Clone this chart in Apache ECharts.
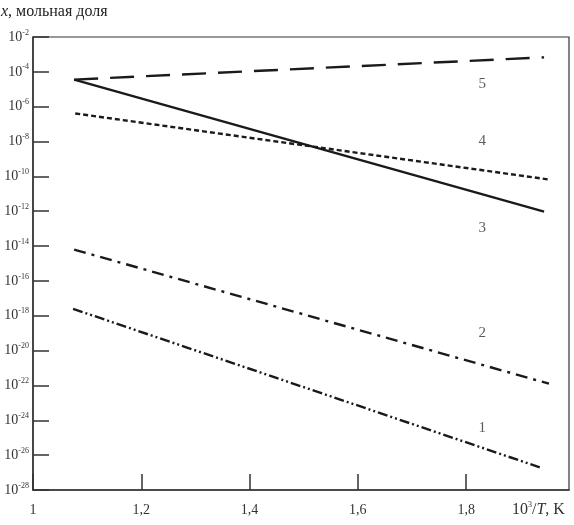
<!DOCTYPE html>
<html><head><meta charset="utf-8">
<script src="https://cdn.jsdelivr.net/npm/echarts@6/dist/echarts.min.js"></script>
<style>html,body{margin:0;padding:0;background:#fff}#c{width:574px;height:525px}</style>
</head><body><div id="c"></div>
<script>
// Data (x = 10^3/T, y = mole fraction)
const xTicks = [1, 1.2, 1.4, 1.6, 1.8];
const xTickLabels = ['1', '1,2', '1,4', '1,6', '1,8'];
const curve1X = [1.074, 1.936];
const curve1Y = [2.5e-18, 2.0e-27];
const curve2X = [1.076, 1.953];
const curve2Y = [6.3e-15, 1.26e-22];
const curve3X = [1.076, 1.944];
const curve3Y = [3.6e-5, 9.5e-13];
const curve4X = [1.078, 1.953];
const curve4Y = [4.1e-7, 6.6e-11];
const curve5X = [1.076, 1.944];
const curve5Y = [3.6e-5, 6.8e-4];
const curveNames = ['1', '2', '3', '4', '5'];
const labelX = [1.83, 1.83, 1.83, 1.83, 1.83];
const labelY = [3.6e-25, 1.07e-19, 1.15e-13, 1.0e-8, 1.9e-5];
const yMinExp = -28, yMaxExp = -2, yStepExp = 2; // decades of the log axis

const SERIF = '"Liberation Serif","DejaVu Serif",serif';
const INK = '#1a1a1a';
// log10 scale handled by a value axis in decades
const pairs = (xs, ys) => xs.map((x, i) => [x, Math.log10(ys[i])]);
function lineSeries(xs, ys, dash) {
  return {
    type: 'line', data: pairs(xs, ys), symbol: 'none', silent: true,
    lineStyle: { color: INK, width: 2.4, type: dash }
  };
}
const chart = echarts.init(document.getElementById('c'), null, { renderer: 'canvas' });
chart.setOption({
  animation: false,
  grid: { left: 33, right: 5, top: 37, bottom: 35, show: true, borderColor: '#333', borderWidth: 1.2 },
  xAxis: {
    type: 'value', min: 1, max: 1.99, interval: 0.2,
    axisLine: { lineStyle: { color: '#333', width: 1.5 } },
    axisTick: { inside: true, length: 16, lineStyle: { color: '#333', width: 1.5 } },
    splitLine: { show: false },
    axisLabel: {
      margin: 13, color: '#333', fontFamily: SERIF, fontSize: 14, showMaxLabel: false,
      formatter: v => { const i = xTicks.findIndex(t => Math.abs(t - v) < 1e-6); return i >= 0 ? xTickLabels[i] : ''; }
    }
  },
  yAxis: {
    type: 'value', min: yMinExp, max: yMaxExp, interval: yStepExp,
    axisLine: { lineStyle: { color: '#333', width: 1.5 } },
    axisTick: { inside: true, length: 16, lineStyle: { color: '#333', width: 1.5 } },
    splitLine: { show: false },
    axisLabel: {
      margin: 4, color: '#333',
      formatter: v => '{b|10}{s|' + Math.round(v) + '}',
      rich: {
        b: { fontFamily: SERIF, fontSize: 14, color: '#333' },
        s: { fontFamily: SERIF, fontSize: 8, color: '#333', verticalAlign: 'top', padding: [0, 0, 9, 0] }
      }
    }
  },
  series: [
    lineSeries(curve1X, curve1Y, [10, 3, 2, 3, 2, 3]),
    lineSeries(curve2X, curve2Y, [12, 6, 3, 6]),
    lineSeries(curve3X, curve3Y, 'solid'),
    lineSeries(curve4X, curve4Y, [5, 3]),
    lineSeries(curve5X, curve5Y, [24, 12]),
    {
      type: 'scatter', symbol: 'circle', symbolSize: 2, silent: true,
      itemStyle: { color: 'rgba(0,0,0,0)' },
      data: labelX.map((x, i) => ({ value: [x, Math.log10(labelY[i])], name: curveNames[i] })),
      label: { show: true, position: 'inside', formatter: p => p.name, color: '#333', fontFamily: SERIF, fontSize: 15 },
      labelLayout: { hideOverlap: false }
    }
  ],
  graphic: [
    { type: 'text', left: 1, top: 4, style: { text: '{i|x}{n|, мольная доля}', rich: {
      i: { fontFamily: SERIF, fontStyle: 'italic', fontSize: 16, fill: '#222' },
      n: { fontFamily: SERIF, fontSize: 16, fill: '#222' } } } },
    { type: 'text', left: 512, top: 501, style: { text: '{n|10}{s|3}{n|/}{i|T}{n|, K}', rich: {
      n: { fontFamily: SERIF, fontSize: 16, fill: '#333' },
      i: { fontFamily: SERIF, fontStyle: 'italic', fontSize: 16, fill: '#333' },
      s: { fontFamily: SERIF, fontSize: 8, fill: '#333', verticalAlign: 'top', padding: [0, 0, 9, 0] } } } }
  ]
});
</script></body></html>
